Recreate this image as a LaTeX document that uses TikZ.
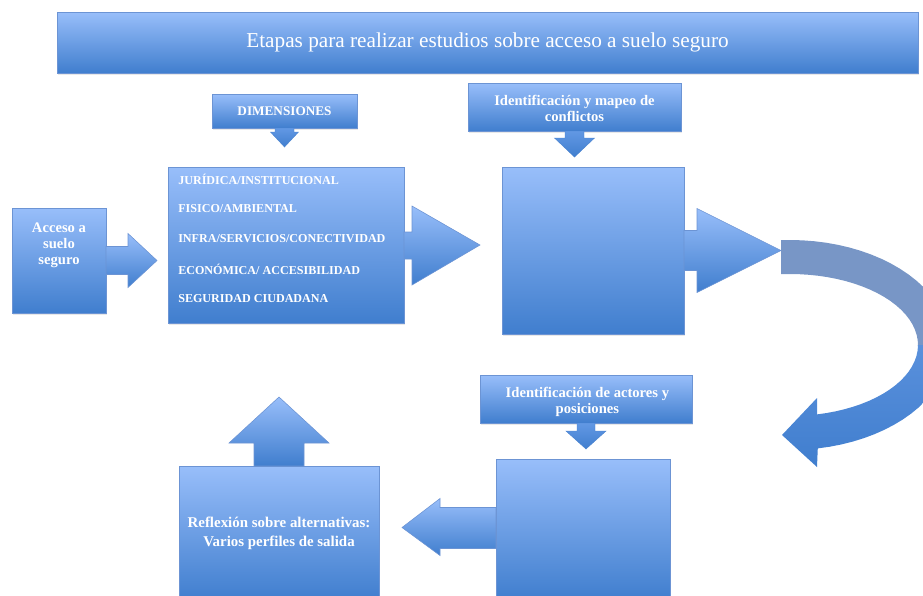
\documentclass[tikz,border=0pt]{standalone}
\usepackage{fontspec}
\setmainfont{Liberation Serif}
\usepackage{tikz}
\usetikzlibrary{positioning, fit, shadows}
\definecolor{BoxTop}{RGB}{152,190,250}
\definecolor{BoxBottom}{RGB}{64,126,206}
\definecolor{BoxLine}{RGB}{108,148,212}
\definecolor{CurveGray}{RGB}{120,150,198}
\definecolor{CurveBlue}{RGB}{112,160,232}
\definecolor{SmallTop}{RGB}{98,152,228}

\tikzset{
  stagebox/.style={rectangle, inner sep=0pt, outer sep=0pt, draw=BoxLine, line width=0.4pt,
    top color=BoxTop, bottom color=BoxBottom,
    drop shadow={opacity=0.18, shadow xshift=1pt, shadow yshift=-1.2pt}},
  blockarrow/.style={draw=BoxLine, line width=0.4pt, top color=BoxTop, bottom color=BoxBottom},
  smallarrow/.style={draw=BoxBottom!80!BoxLine, line width=0.3pt, top color=SmallTop, bottom color=BoxBottom},
  boxtext/.style={text=white, align=center, font=\bfseries\fontsize{10.4}{11.5}\selectfont},
  listtext/.style={text=white, anchor=west, inner sep=0pt, font=\bfseries\fontsize{8.6}{10}\selectfont},
}

\begin{document}
\begin{tikzpicture}[x=0.025cm, y=-0.025cm]
  \useasboundingbox (0,0) rectangle (923,595);
  \clip (0,0) rectangle (923,595);

  % boxes
  \node[stagebox, fit={(57,12) (918,73)}] (title) {};
  \node[stagebox, fit={(212,94) (357,128)}] (dimhead) {};
  \node[stagebox, fit={(168,167) (404,323)}] (dimlist) {};
  \node[stagebox, fit={(12,208) (106,313)}] (acceso) {};
  \node[stagebox, fit={(468,83) (681,131)}] (conflhead) {};
  \node[stagebox, fit={(502,167) (684,334)}] (conflbox) {};
  \node[stagebox, fit={(480,375) (692,423)}] (actorhead) {};
  \node[stagebox, fit={(496,459) (670,600)}] (actorbox) {};
  \node[stagebox, fit={(179,466) (379,600)}] (reflex) {};

  % texts
  \node[text=white, font=\fontsize{15.1}{17}\selectfont] (titletext) at (title.center)
    {Etapas para realizar estudios sobre acceso a suelo seguro};
  \node[boxtext, font=\bfseries\fontsize{9.4}{11}\selectfont] (dimtext) at (dimhead.center) {DIMENSIONES};
  \node[boxtext] (confltext) at ([yshift=-1]conflhead.center) {Identificación y mapeo de\\conflictos};
  \node[boxtext] (actortext) at ([xshift=1,yshift=-2]actorhead.center) {Identificación de actores y\\posiciones};
  \node[boxtext, font=\bfseries\fontsize{10.6}{13.5}\selectfont] (reflextext) at (reflex.center)
    {Reflexión sobre alternativas:\\Varios perfiles de salida};
  \node[boxtext] (accesotext) at (59,245) {Acceso a\\suelo\\seguro};
  \node[listtext] (jur) at (178,179) {JURÍDICA/INSTITUCIONAL};
  \node[listtext] (fis) at (178,209) {FISICO/AMBIENTAL};
  \node[listtext] (infra) at (178,239) {INFRA/SERVICIOS/CONECTIVIDAD};
  \node[listtext] (eco) at (178,269) {ECONÓMICA/ ACCESIBILIDAD};
  \node[listtext] (seg) at (178,299) {SEGURIDAD CIUDADANA};

  % block arrows
  \shade[blockarrow, shift={(acceso.east)}] (0,-14) -- (22,-14) -- (22,-27) -- (51,0) -- (22,27) -- (22,14) -- (0,14) -- cycle;
  \shade[blockarrow, shift={(dimlist.east)}] (0,-13) -- (8,-13) -- (8,-39) -- (76,0) -- (8,40) -- (8,14) -- (0,14) -- cycle;
  \shade[blockarrow, shift={(conflbox.east)}] (0,-20) -- (13,-20) -- (13,-42) -- (97,0) -- (13,42) -- (13,20) -- (0,20) -- cycle;
  \shade[smallarrow, shift={(dimhead.south)}] (-9.5,0) -- (-9.5,4) -- (-14,4) -- (0,19) -- (14,4) -- (9.5,4) -- (9.5,0) -- cycle;
  \shade[smallarrow, shift={(conflhead.south)}] (-9.5,0) -- (-9.5,7) -- (-20,7) -- (0,26) -- (20,7) -- (9.5,7) -- (9.5,0) -- cycle;
  \shade[smallarrow, shift={(actorhead.south)}] (-9,0) -- (-9,8) -- (-20,8) -- (0,26) -- (20,8) -- (9,8) -- (9,0) -- cycle;
  \shade[blockarrow, shift={(actorbox.west)}] (0,-22) -- (-56,-22) -- (-56,-31) -- (-94,-2) -- (-56,26) -- (-56,19) -- (0,19) -- cycle;
  \shade[blockarrow, shift={(reflex.north)}] (-25,0) -- (-25,-23) -- (-50,-23) -- (0,-69) -- (50,-23) -- (25,-23) -- (25,0) -- cycle;

  % curved arrow, grey upper half
  \begin{scope}
    \clip (700,200) rectangle (923,345);
    \fill[CurveGray] (781,240) -- plot[domain=90:-80, samples=40] ({790+160*cos(\x)},{345-105*sin(\x)})
      -- (817,467) -- (782,435) -- (817,398)
      -- plot[domain=-77.8:90, samples=40] ({790+128*cos(\x)},{345-71*sin(\x)}) -- (781,274) -- cycle;
  \end{scope}
  % curved arrow, blue lower half
  \begin{scope}
    \clip (700,345) rectangle (923,480);
    \shade[top color=CurveBlue, bottom color=BoxBottom] (781,240) -- plot[domain=90:-80, samples=40] ({790+160*cos(\x)},{345-105*sin(\x)})
      -- (817,467) -- (782,435) -- (817,398)
      -- plot[domain=-77.8:90, samples=40] ({790+128*cos(\x)},{345-71*sin(\x)}) -- (781,274) -- cycle;
  \end{scope}
\end{tikzpicture}
\end{document}
